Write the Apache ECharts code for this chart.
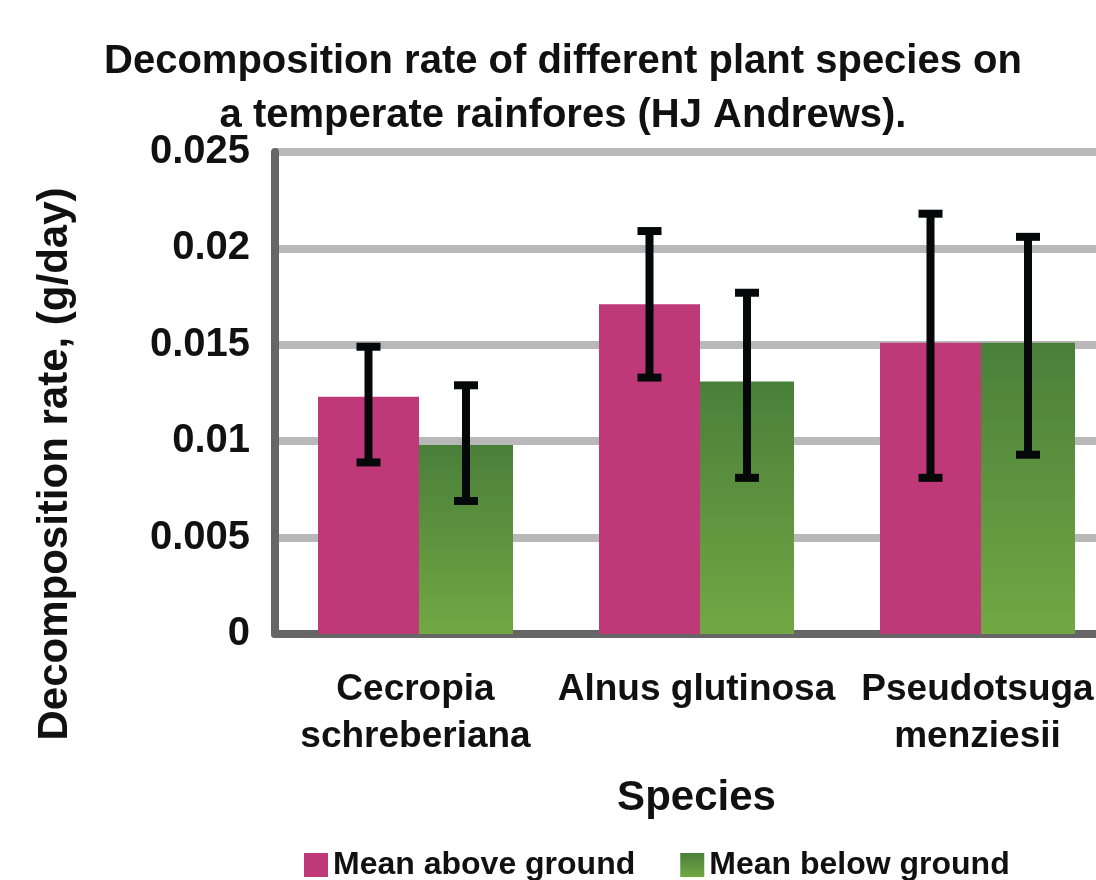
<!DOCTYPE html>
<html>
<head>
<meta charset="utf-8">
<script src="https://cdn.jsdelivr.net/npm/echarts@6/dist/echarts.min.js"></script>
<style>
  html, body { margin: 0; padding: 0; background: #fff; width: 1096px; height: 880px; overflow: hidden; }
  /* the plot runs past the right edge of the picture, so the chart box is wider than the window */
  #chart { width: 1118px; height: 880px; }
</style>
</head>
<body>
<div id="chart"></div>
<script>
var species = ['Cecropia\nschreberiana', 'Alnus glutinosa', 'Pseudotsuga\nmenziesii'];
var seriesNames = ['Mean above ground', 'Mean below ground'];

// mean decomposition rate (g/day)
var aboveMean = [0.0123, 0.0171, 0.0151];
var belowMean = [0.0098, 0.0131, 0.0151];
// error bar ends
var aboveLow = [0.0089, 0.0133, 0.0081];
var aboveHigh = [0.0149, 0.0209, 0.0218];
var belowLow = [0.0069, 0.0081, 0.0093];
var belowHigh = [0.0129, 0.0177, 0.0206];

var yTicks = ['0', '0.005', '0.01', '0.015', '0.02', '0.025'];

var FONT = 'Liberation Sans, Arial, sans-serif';
var pink = '#bf3878';
var pinkW = 101, greenW = 94;

function errorSeries(low, high, offset, name) {
  var d = [];
  for (var i = 0; i < low.length; i++) d.push([i, low[i], high[i]]);
  return {
    type: 'custom',
    name: name + ' err',
    data: d,
    z: 10,
    silent: true,
    renderItem: function (params, api) {
      var lo = api.coord([api.value(0), api.value(1)]);
      var hi = api.coord([api.value(0), api.value(2)]);
      var x = lo[0] + offset;
      var cap = 12;
      var st = { stroke: '#050808', lineWidth: 8 };
      return {
        type: 'group',
        children: [
          { type: 'line', shape: { x1: x, y1: hi[1], x2: x, y2: lo[1] }, style: st },
          { type: 'line', shape: { x1: x - cap, y1: hi[1], x2: x + cap, y2: hi[1] }, style: st },
          { type: 'line', shape: { x1: x - cap, y1: lo[1], x2: x + cap, y2: lo[1] }, style: st }
        ]
      };
    }
  };
}

var chart = echarts.init(document.getElementById('chart'), null, { renderer: 'canvas' });
var total = pinkW + greenW;

var option = {
  animation: false,
  textStyle: { fontFamily: FONT },
  title: {
    text: 'Decomposition rate of different plant species on\na temperate rainfores (HJ Andrews).',
    left: 558,
    top: 30,
    textAlign: 'center',
    textStyle: { fontFamily: FONT, fontSize: 40, fontWeight: 'bold', color: '#111', lineHeight: 54 }
  },
  legend: {
    data: seriesNames,
    left: 299,
    top: 844,
    itemWidth: 24,
    itemHeight: 24,
    itemGap: 45,
    icon: 'rect',
    textStyle: { fontFamily: FONT, fontSize: 32, fontWeight: 'bold', color: '#111' }
  },
  grid: { left: 275, top: 152, right: 0, height: 482, containLabel: false },
  xAxis: {
    type: 'category',
    data: species,
    name: 'Species',
    nameLocation: 'middle',
    nameGap: 143,
    nameTextStyle: { fontFamily: FONT, fontSize: 42, fontWeight: 'bold', color: '#111' },
    axisLine: { lineStyle: { color: '#666', width: 8 } },
    axisTick: { show: false },
    axisLabel: {
      interval: 0,
      margin: 32,
      fontFamily: FONT, fontSize: 37, fontWeight: 'bold', color: '#111', lineHeight: 47
    }
  },
  yAxis: {
    type: 'value',
    min: 0,
    max: 0.025,
    interval: 0.005,
    axisLine: { show: true, lineStyle: { color: '#666', width: 8 } },
    axisTick: { show: false },
    splitLine: { lineStyle: { color: '#b8b8b8', width: 8 } },
    axisLabel: {
      margin: 25,
      fontFamily: FONT, fontSize: 40, fontWeight: 'bold', color: '#111',
      formatter: function (v) { return yTicks[Math.round(v / 0.005)]; }
    }
  },
  graphic: [{
    type: 'text',
    x: 55,
    y: 464,
    rotation: Math.PI / 2,
    style: {
      text: 'Decomposition rate, (g/day)',
      font: 'bold 42px ' + FONT,
      fill: '#111',
      textAlign: 'center',
      textVerticalAlign: 'middle'
    }
  }],
  series: [
    {
      name: seriesNames[0],
      type: 'bar',
      data: aboveMean,
      barWidth: pinkW,
      barGap: 0,
      itemStyle: { color: pink }
    },
    {
      name: seriesNames[1],
      type: 'bar',
      data: belowMean,
      barWidth: greenW,
      barGap: 0,
      itemStyle: {
        color: new echarts.graphic.LinearGradient(0, 0, 0, 1, [
          { offset: 0, color: '#4a7f3a' },
          { offset: 1, color: '#72a843' }
        ])
      }
    },
    errorSeries(aboveLow, aboveHigh, -total / 2 + pinkW / 2, 'above'),
    errorSeries(belowLow, belowHigh, -total / 2 + pinkW + greenW / 2, 'below')
  ]
};
chart.setOption(option);
</script>
</body>
</html>
